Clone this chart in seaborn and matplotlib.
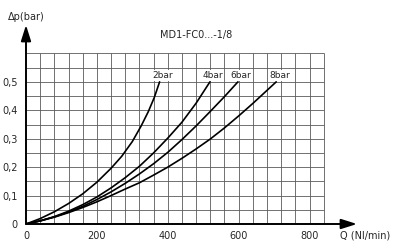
import numpy as np
import pandas as pd
import matplotlib
matplotlib.use("Agg")
import matplotlib.pyplot as plt
import seaborn as sns

# ---- data ----
q_2bar = [0, 40, 80, 120, 160, 200, 240, 270, 300, 325, 345, 362, 377]
dp_2bar = [0, 0.019, 0.043, 0.072, 0.106, 0.147, 0.196, 0.238, 0.290, 0.345,
           0.395, 0.445, 0.500]

q_4bar = [0, 40, 80, 120, 160, 200, 240, 280, 320, 360, 400, 440, 480, 519]
dp_4bar = [0, 0.011, 0.026, 0.045, 0.068, 0.095, 0.127, 0.163, 0.203, 0.250,
           0.302, 0.358, 0.425, 0.500]

q_6bar = [0, 40, 80, 120, 160, 200, 240, 280, 320, 360, 400, 440, 480, 520, 560, 598]
dp_6bar = [0, 0.011, 0.025, 0.042, 0.062, 0.086, 0.113, 0.143, 0.176, 0.212,
           0.252, 0.297, 0.345, 0.396, 0.448, 0.500]

q_8bar = [0, 40, 80, 120, 160, 200, 240, 280, 320, 360, 400, 440, 480, 520,
          560, 600, 640, 680, 706]
dp_8bar = [0, 0.011, 0.024, 0.040, 0.058, 0.078, 0.100, 0.123, 0.145, 0.172,
           0.200, 0.231, 0.264, 0.299, 0.338, 0.380, 0.424, 0.470, 0.500]

curve_names = ["2bar", "4bar", "6bar", "8bar"]
x_ticks = [0, 200, 400, 600, 800]
y_ticks = [0, 0.1, 0.2, 0.3, 0.4, 0.5]
y_ticklabels = ["0", "0,1", "0,2", "0,3", "0,4", "0,5"]
title = "MD1-FC0...-1/8"

frames = []
for name, q, dp in zip(curve_names, [q_2bar, q_4bar, q_6bar, q_8bar],
                       [dp_2bar, dp_4bar, dp_6bar, dp_8bar]):
    frames.append(pd.DataFrame({"Q": q, "dp": dp, "curve": name}))
df = pd.concat(frames, ignore_index=True)

# ---- style ----
sns.set_style("white")
plt.rcParams["font.family"] = ["Liberation Sans Narrow", "DejaVu Sans"]
plt.rcParams["font.size"] = 6.5

fig = plt.figure(figsize=(4.0, 2.48), dpi=100)
ax = fig.add_axes([26 / 400, 24 / 248, 331 / 400, 199 / 248])
ax.set_xlim(0, 934)
ax.set_ylim(0, 0.70)

# grid (only inside 0..840 x 0..0.6)
grid_c = "#5a5a5a"
ax.vlines(np.arange(40, 841, 40), 0, 0.6, color=grid_c, lw=0.6, zorder=1)
ax.hlines(np.arange(0.05, 0.601, 0.05), 0, 840, color=grid_c, lw=0.6, zorder=1)

sns.lineplot(data=df, x="Q", y="dp", hue="curve", palette=["black"] * 4,
             legend=False, lw=1.2, sort=False, estimator=None, ax=ax, zorder=3)

# curve labels above the ends
for name, q in zip(curve_names, [q_2bar, q_4bar, q_6bar, q_8bar]):
    ax.text(q[-1] + 9, 0.522, name, ha="center", va="center", fontsize=6.5,
            zorder=4, bbox=dict(facecolor="white", edgecolor="none", pad=0.6))

for s in ax.spines.values():
    s.set_visible(False)

# axes with arrowheads
arrow = dict(arrowstyle="-|>,head_length=0.95,head_width=0.3", color="black",
             lw=1.4, mutation_scale=10, shrinkA=0, shrinkB=0)
ax.annotate("", xy=(1, 0), xytext=(0, 0), xycoords="axes fraction",
            textcoords="axes fraction", arrowprops=arrow, zorder=5)
ax.annotate("", xy=(0, 1), xytext=(0, 0), xycoords="axes fraction",
            textcoords="axes fraction", arrowprops=arrow, zorder=5)

ax.set_xticks(x_ticks)
ax.set_xticklabels([str(t) for t in x_ticks])
ax.set_yticks(y_ticks)
ax.set_yticklabels(y_ticklabels)
ax.tick_params(axis="x", length=0, pad=5, labelsize=7)
ax.tick_params(axis="y", length=0, pad=6, labelsize=7)
ax.set_xlabel("")
ax.set_ylabel("")

fig.text(8 / 400, 1 - 17 / 248, "Δp(bar)", ha="left", va="center", fontsize=7)
fig.text(196 / 400, 1 - 35 / 248, title, ha="center", va="center", fontsize=7)
fig.text(340 / 400, 1 - 236 / 248, "Q (Nl/min)", ha="left", va="center", fontsize=7)

fig.savefig("out.png", dpi=100)
